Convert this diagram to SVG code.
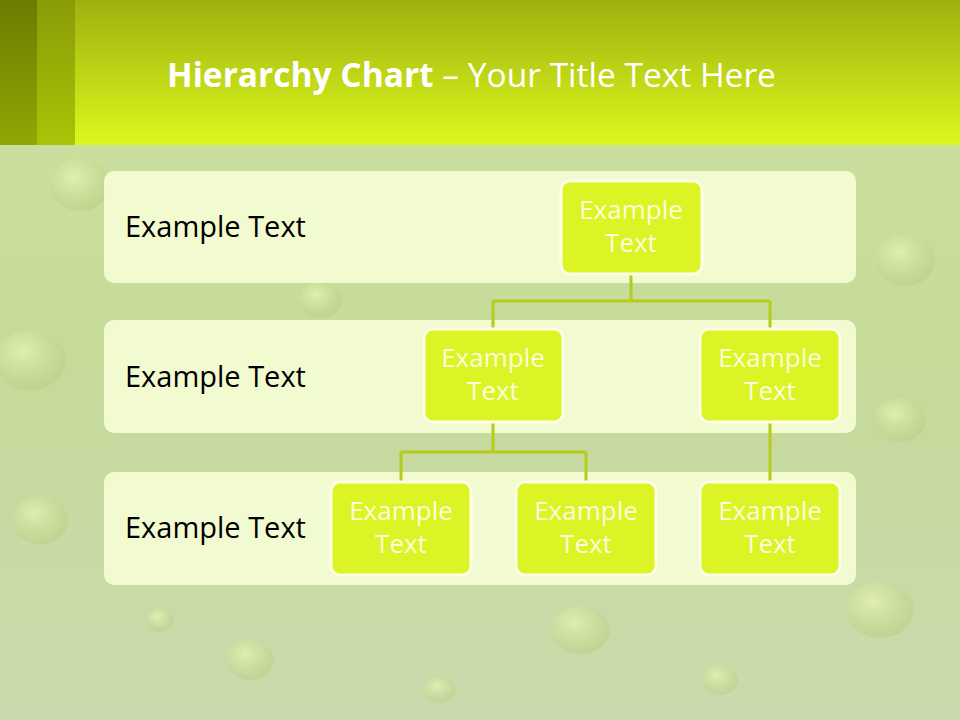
<svg xmlns="http://www.w3.org/2000/svg" width="960" height="720" viewBox="0 0 960 720">
<defs>
<linearGradient id="hdr" x1="0" y1="0" x2="0" y2="1"><stop offset="0" stop-color="#9fb00e"/><stop offset="1" stop-color="#dcf81e"/></linearGradient>
<linearGradient id="s1" x1="0" y1="0" x2="0" y2="1"><stop offset="0" stop-color="#6c7c02"/><stop offset="1" stop-color="#90a804"/></linearGradient>
<linearGradient id="s2" x1="0" y1="0" x2="0" y2="1"><stop offset="0" stop-color="#8a9c06"/><stop offset="1" stop-color="#a8c408"/></linearGradient>
<linearGradient id="bg" x1="0" y1="0" x2="0" y2="1"><stop offset="0" stop-color="#cde2a0"/><stop offset="0.5" stop-color="#c6da9a"/><stop offset="1" stop-color="#cbdaad"/></linearGradient>
<radialGradient id="drop" cx="0.4" cy="0.35" r="0.7"><stop offset="0" stop-color="#e6f4b8" stop-opacity="0.8"/><stop offset="1" stop-color="#b4cc80" stop-opacity="0.5"/></radialGradient>
</defs>
<style>
.band{fill:#f5fcd4;fill-opacity:0.93}
.node rect{fill:#dcf426;stroke:#fbffe6;stroke-width:3}
.node text{fill:#f8ffd8;font-family:"Open Sans","Liberation Sans",sans-serif;font-size:26px;text-anchor:middle}
.lbl{fill:#000;font-family:"Open Sans","Liberation Sans",sans-serif;font-size:29px}
.conn{fill:none;stroke:#b6cc1a;stroke-width:3}
.drop{fill:url(#drop)}
</style>
<rect x="0" y="0" width="960" height="720" fill="url(#bg)"/>
<g id="droplets">
<ellipse class="drop" cx="80" cy="185" rx="30" ry="26"/>
<ellipse class="drop" cx="30" cy="360" rx="36" ry="30"/>
<ellipse class="drop" cx="40" cy="520" rx="28" ry="24"/>
<ellipse class="drop" cx="905" cy="260" rx="30" ry="26"/>
<ellipse class="drop" cx="900" cy="420" rx="26" ry="22"/>
<ellipse class="drop" cx="880" cy="610" rx="34" ry="28"/>
<ellipse class="drop" cx="320" cy="300" rx="22" ry="18"/>
<ellipse class="drop" cx="580" cy="630" rx="30" ry="24"/>
<ellipse class="drop" cx="250" cy="660" rx="24" ry="20"/>
<ellipse class="drop" cx="160" cy="620" rx="14" ry="12"/>
<ellipse class="drop" cx="720" cy="680" rx="18" ry="15"/>
<ellipse class="drop" cx="440" cy="690" rx="16" ry="13"/>
</g>
<g id="header">
<rect x="0" y="0" width="960" height="145" fill="url(#hdr)"/>
<rect x="0" y="0" width="37" height="145" fill="url(#s1)"/>
<rect x="37" y="0" width="38" height="145" fill="url(#s2)"/>
<text x="167" y="87" fill="#ffffff" font-family="'Open Sans','Liberation Sans',sans-serif" font-size="33.5"><tspan font-weight="bold">Hierarchy Chart</tspan> – Your Title Text Here</text>
</g>
<g id="bands">
<g id="band1"><rect class="band" x="104" y="171" width="752" height="112" rx="10"/><text class="lbl" x="125" y="237">Example Text</text></g>
<g id="band2"><rect class="band" x="104" y="320" width="752" height="113" rx="10"/><text class="lbl" x="125" y="387">Example Text</text></g>
<g id="band3"><rect class="band" x="104" y="472" width="752" height="113" rx="10"/><text class="lbl" x="125" y="538">Example Text</text></g>
</g>
<g id="connectors">
<path class="conn" d="M631,274 V301 M493,301 H770 M493,301 V329 M770,301 V329"/>
<path class="conn" d="M493,422 V452 M401,452 H586 M401,452 V482 M586,452 V482"/>
<path class="conn" d="M770,422 V482"/>
</g>
<g id="n1" class="node"><rect x="561" y="181" width="141" height="93" rx="9"/><text x="631" y="219">Example</text><text x="631" y="252">Text</text></g>
<g id="n2" class="node"><rect x="424" y="329" width="139" height="93" rx="9"/><text x="493" y="367">Example</text><text x="493" y="400">Text</text></g>
<g id="n3" class="node"><rect x="700" y="329" width="140" height="93" rx="9"/><text x="770" y="367">Example</text><text x="770" y="400">Text</text></g>
<g id="n4" class="node"><rect x="331" y="482" width="140" height="93" rx="9"/><text x="401" y="520">Example</text><text x="401" y="553">Text</text></g>
<g id="n5" class="node"><rect x="516" y="482" width="140" height="93" rx="9"/><text x="586" y="520">Example</text><text x="586" y="553">Text</text></g>
<g id="n6" class="node"><rect x="700" y="482" width="140" height="93" rx="9"/><text x="770" y="520">Example</text><text x="770" y="553">Text</text></g>
</svg>
